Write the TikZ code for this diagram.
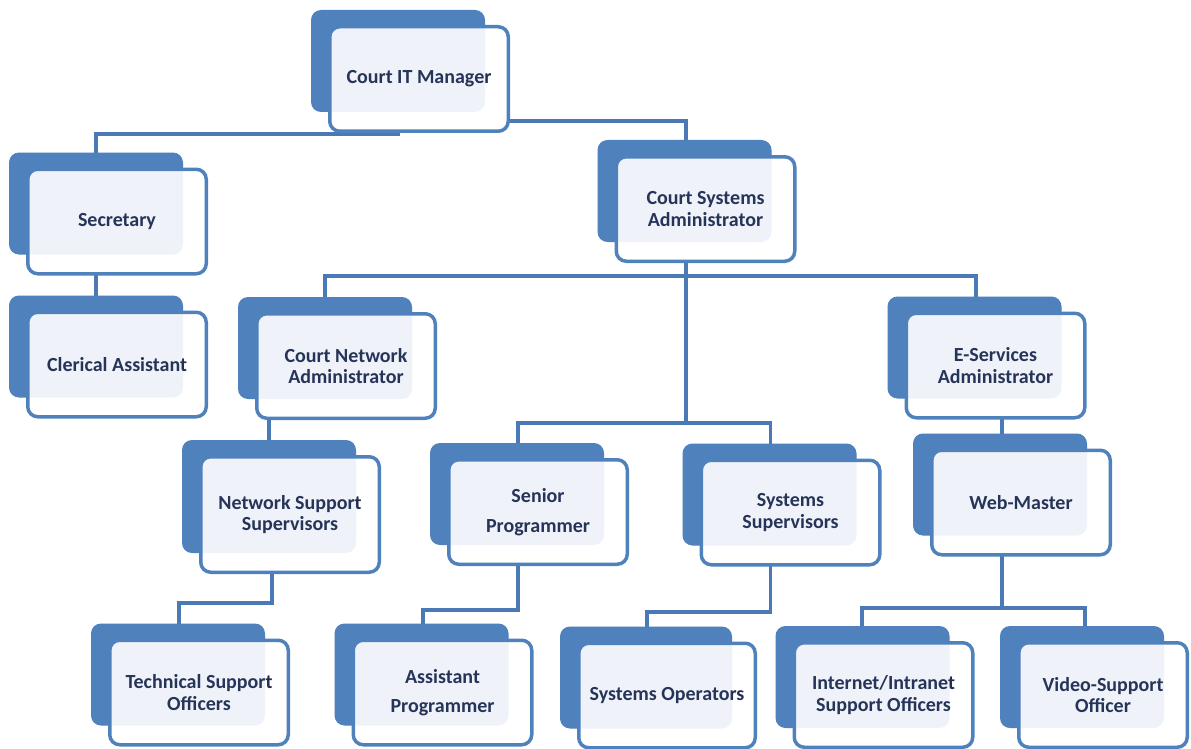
\documentclass[tikz,border=0pt]{standalone}
\usepackage{fontspec}
\setmainfont{Carlito}
\usetikzlibrary{calc}
\definecolor{orgblue}{RGB}{79,129,189}
\definecolor{orgline}{RGB}{74,122,181}
\definecolor{orgtext}{RGB}{35,45,80}
\pgfdeclarelayer{links}
\pgfdeclarelayer{backs}
\pgfdeclarelayer{tints}
\pgfsetlayers{links,backs,main,tints}
\tikzset{
  post/.style={draw=orgblue, line width=3.5pt, rounded corners=10pt,
    fill=white, text=orgtext,
    font=\bfseries\fontsize{20}{21.5}\selectfont, align=center,
    minimum width=178.5pt, minimum height=104.5pt, inner sep=0pt, outer sep=0pt},
  tall/.style={minimum height=115.5pt},
  roomy/.style={font=\bfseries\fontsize{20}{29.5}\selectfont},
  link/.style={draw=orgline, line width=3.5pt},
  plate/.style={fill=orgblue, rounded corners=10pt},
  glaze/.style={fill=orgblue, fill opacity=0.09, rounded corners=10pt},
}
\begin{document}
\begin{tikzpicture}[x=1pt, y=-1pt]
\useasboundingbox (0,0) rectangle (1191,749);

% positions
\node[post] (citm) at (419,79) {Court IT Manager};
\node[post] (sec) at (117,221.5) {Secretary};
\node[post] (cler) at (117,364.5) {Clerical Assistant};
\node[post] (csa) at (705.5,209) {Court Systems\\Administrator};
\node[post] (cna) at (346,366) {Court Network\\Administrator};
\node[post] (esa) at (995.5,365.5) {E-Services\\Administrator};
\node[post,tall] (nss) at (290,514.5) {Network Support\\Supervisors};
\node[post,roomy] (senior) at (538,512) {Senior\\Programmer};
\node[post] (syssup) at (790.5,512.5) {Systems\\Supervisors};
\node[post] (web) at (1021,502.5) {Web-Master};
\node[post] (tech) at (199,692.5) {Technical Support\\Officers};
\node[post,roomy] (asst) at (442.5,692.5) {Assistant\\Programmer};
\node[post,minimum width=176.5pt] (sysops) at (667,695.5) {Systems Operators};
\node[post] (inet) at (883.5,695) {Internet/Intranet\\Support Officers};
\node[post,minimum width=168.5pt] (video) at (1103,695) {Video-Support\\Officer};

% shadow plates behind every box, and their faint glaze seen through the box
\foreach \n in {citm,sec,cler,csa,cna,esa,nss,senior,syssup,web,tech,asst,sysops,inet,video}{
  \begin{pgfonlayer}{backs}
    \fill[plate] ([shift={(-18.75pt,16.75pt)}]\n.north west) rectangle ([shift={(-23.25pt,19.25pt)}]\n.south east);
  \end{pgfonlayer}
  \begin{pgfonlayer}{tints}
    \fill[glaze] ([shift={(-18.75pt,16.75pt)}]\n.north west) rectangle ([shift={(-23.25pt,19.25pt)}]\n.south east);
  \end{pgfonlayer}
}

% reporting lines
\begin{pgfonlayer}{links}
\coordinate (nssin) at ([xshift=-21pt]nss.south);
\coordinate (webin) at ([xshift=-19pt]web.south);
\draw[link] ([xshift=-21pt]citm.center) -- ++(0,55) -| ([xshift=-21pt]sec.south);
\draw[link] ([xshift=-21pt]citm.center) -- ++(0,42) -| ([xshift=-19.5pt]csa.south);
\draw[link] ([xshift=-21pt]sec.center) -- ([xshift=-21pt]cler.south);
\draw[link] ([xshift=-19.5pt]csa.center) -- ++(0,67) -| ([xshift=-21pt]cna.south);
\draw[link] ([xshift=-19.5pt]csa.center) -- ++(0,67) -| ([xshift=-19.5pt]esa.south);
\draw[link] ([xshift=-19.5pt]csa.center) -- ++(0,214) -| ([xshift=-20pt]senior.south);
\draw[link] ([xshift=-19.5pt]csa.center) -- ++(0,214) -| ([xshift=-20pt]syssup.south);
\draw[link] (nssin) -- (nssin |- cna.center);
\draw[link] (webin) -- (webin |- esa.center);
\draw[link] ([xshift=-18pt]nss.center) -- ++(0,88.5) -| ([xshift=-20pt]tech.south);
\draw[link] ([xshift=-20pt]senior.center) -- ++(0,98) -| ([xshift=-19.5pt]asst.south);
\draw[link] ([xshift=-20pt]syssup.center) -- ++(0,99.5) -| ([xshift=-20pt]sysops.south);
\draw[link] ([xshift=-19pt]web.center) -- ++(0,105.5) -| ([xshift=-21.5pt]inet.south);
\draw[link] ([xshift=-19pt]web.center) -- ++(0,105.5) -| ([xshift=-18pt]video.south);
\end{pgfonlayer}
\end{tikzpicture}
\end{document}
